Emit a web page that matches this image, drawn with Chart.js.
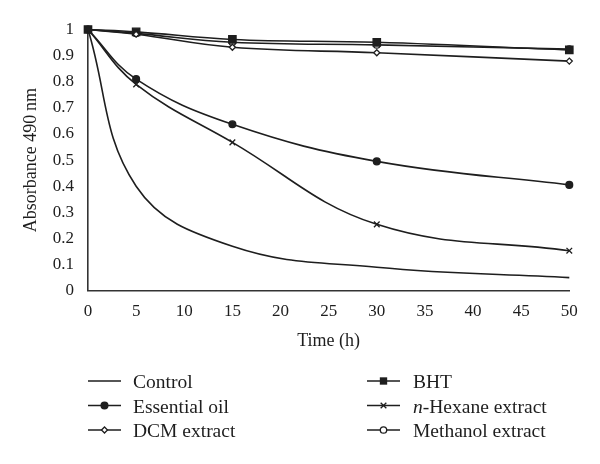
<!DOCTYPE html>
<html><head><meta charset="utf-8">
<script src="https://cdn.jsdelivr.net/npm/chart.js@4"></script>
<style>
html,body{margin:0;padding:0;background:#fff}
#wrap{position:relative;width:600px;height:464px}
canvas,svg{position:absolute;left:0;top:0}
</style>
</head><body>
<div id="wrap"><canvas id="c" width="600" height="464"></canvas><svg id="leg" width="600" height="464" xmlns="http://www.w3.org/2000/svg"></svg></div>
<script>
// ---- data ----
const times = [0, 5, 15, 30, 50];
const control = [1, 0.40, 0.17, 0.09, 0.05];
const essentialOil = [1, 0.81, 0.637, 0.495, 0.405];
const dcmExtract = [1, 0.982, 0.932, 0.911, 0.879];
const bht = [1, 0.991, 0.962, 0.951, 0.922];
const hexaneExtract = [1, 0.79, 0.568, 0.254, 0.153];
const methanolExtract = [1, 0.985, 0.951, 0.941, 0.925];
const seriesNames = ['Control', 'Essential oil', 'DCM extract', 'BHT', 'n-Hexane extract', 'Methanol extract'];
const xTickLabels = ['0','5','10','15','20','25','30','35','40','45','50'];
const yTickLabels = ['0','0.1','0.2','0.3','0.4','0.5','0.6','0.7','0.8','0.9','1'];
const xTitle = 'Time (h)';
const yTitle = 'Absorbance 490\u2009nm';

const INK = '#1e1e1e';
const serif = "'Liberation Serif', 'DejaVu Serif', serif";

const seriesValues = [control, essentialOil, dcmExtract, bht, hexaneExtract, methanolExtract];
const styles = [
  {pointStyle: false, radius: 0, fill: INK},
  {pointStyle: 'circle', radius: 3.4, fill: INK},
  {pointStyle: 'rectRot', radius: 3, fill: '#fff'},
  {pointStyle: 'rect', radius: 5.2, fill: INK},
  {pointStyle: 'crossRot', radius: 4, fill: INK},
  {pointStyle: 'circle', radius: 3.2, fill: '#fff'}
];

const datasets = seriesNames.map((name, i) => ({
  label: name,
  data: times.map((t, k) => ({x: t, y: seriesValues[i][k]})),
  borderColor: INK,
  borderWidth: 1.6,
  tension: 0.4,
  pointStyle: styles[i].pointStyle,
  pointRadius: styles[i].radius,
  pointBackgroundColor: styles[i].fill,
  pointBorderColor: INK,
  pointBorderWidth: 1.3,
  fill: false,
  clip: false
}));

new Chart(document.getElementById('c'), {
  type: 'line',
  data: {datasets},
  options: {
    responsive: false,
    animation: false,
    layout: {padding: {left: 0, right: 30.7, top: 29.5, bottom: 112.1}},
    plugins: {legend: {display: false}, tooltip: {enabled: false}},
    scales: {
      x: {
        type: 'linear', min: 0, max: 50,
        afterFit: s => { s.height = 61.2; },
        grid: {display: false, drawTicks: false},
        border: {display: true, color: '#333', width: 1.6},
        ticks: {stepSize: 5, padding: 10.5, color: INK, font: {family: serif, size: 17},
          callback: (v) => xTickLabels[Math.round(v / 5)]},
        title: {display: true, text: xTitle, color: INK, font: {family: serif, size: 18}, padding: {top: 0, bottom: 0}}
      },
      y: {
        min: 0, max: 1,
        afterFit: s => { s.width = 88; },
        grid: {display: false, drawTicks: false},
        border: {display: true, color: '#333', width: 1.6},
        ticks: {stepSize: 0.1, padding: 14, color: INK, font: {family: serif, size: 17},
          callback: (v) => yTickLabels[Math.round(v * 10)]},
        title: {display: true, text: yTitle, color: INK, font: {family: serif, size: 18}, padding: {top: 20, bottom: 0}}
      }
    }
  }
});

// ---- legend (SVG, real text) ----
const svg = document.getElementById('leg');
const NS = 'http://www.w3.org/2000/svg';
function el(tag, attrs, parent) {
  const e = document.createElementNS(NS, tag);
  for (const k in attrs) e.setAttribute(k, attrs[k]);
  (parent || svg).appendChild(e);
  return e;
}
function marker(style, cx, cy) {
  const r = style.radius;
  if (style.pointStyle === 'circle') el('circle', {cx, cy, r, fill: style.fill, stroke: INK, 'stroke-width': 1.3});
  else if (style.pointStyle === 'rect') { const s = Math.SQRT1_2 * r; el('rect', {x: cx - s, y: cy - s, width: 2 * s, height: 2 * s, fill: INK}); }
  else if (style.pointStyle === 'rectRot') el('polygon', {points: `${cx - r},${cy} ${cx},${cy - r} ${cx + r},${cy} ${cx},${cy + r}`, fill: '#fff', stroke: INK, 'stroke-width': 1.3});
  else if (style.pointStyle === 'crossRot') { const d = r * Math.SQRT1_2; el('path', {d: `M${cx - d},${cy - d}L${cx + d},${cy + d}M${cx - d},${cy + d}L${cx + d},${cy - d}`, stroke: INK, 'stroke-width': 1.3}); }
}
const cols = [{x1: 88, x2: 121, tx: 133}, {x1: 367, x2: 400, tx: 413}];
const rowsY = [381, 405.5, 430];
seriesNames.forEach((name, i) => {
  const c = cols[Math.floor(i / 3)], ry = rowsY[i % 3];
  el('line', {x1: c.x1, y1: ry, x2: c.x2, y2: ry, stroke: INK, 'stroke-width': 1.6});
  marker(styles[i], (c.x1 + c.x2) / 2, ry);
  const t = el('text', {x: c.tx, y: ry + 7, fill: INK, 'font-family': serif, 'font-size': 19.5});
  if (name.startsWith('n-')) {
    const it = el('tspan', {'font-style': 'italic'}, t); it.textContent = 'n';
    const rest = el('tspan', {}, t); rest.textContent = name.slice(1);
  } else t.textContent = name;
});
</script>
</body></html>
